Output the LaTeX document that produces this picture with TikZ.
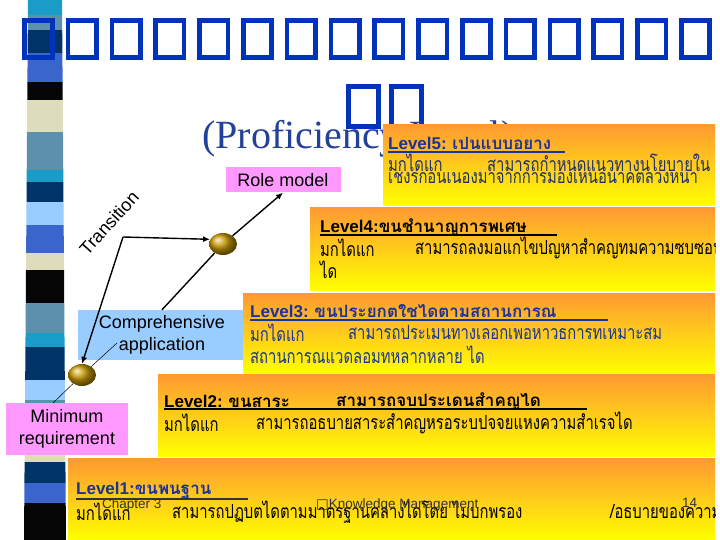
\documentclass[tikz,border=0pt]{standalone}
\usepackage{fontspec}
\setmainfont{Liberation Serif}
\setsansfont{Liberation Sans}
\newfontfamily\thaifont[Script=Thai,FakeStretch=0.76]{Loma}
\newfontfamily\thaihead[Script=Thai]{Loma}
\newfontfamily\symfont{DejaVu Sans}
\usetikzlibrary{shapes.geometric,arrows.meta}
\definecolor{PLTofu}{HTML}{0033BB}
\definecolor{PLTitle}{HTML}{23409A}
\definecolor{PLOrange}{HTML}{FF9933}
\definecolor{PLMid}{HTML}{FFCC1A}
\definecolor{PLYellow}{HTML}{FFFF00}
\definecolor{PLPink}{HTML}{FF99FF}
\definecolor{PLSky}{HTML}{99CCFF}
\definecolor{PLHead}{HTML}{1A3399}
\definecolor{PLNavy}{HTML}{1F2F6F}
\definecolor{PLGold}{HTML}{C89A00}
\definecolor{PLFoot}{HTML}{333333}
\definecolor{SCyan}{HTML}{1A9CC8}
\definecolor{SSteel}{HTML}{5B91AA}
\definecolor{SNavy}{HTML}{003366}
\definecolor{SBlue}{HTML}{3A66CC}
\definecolor{SBeige}{HTML}{DDDDBB}
\definecolor{SSky}{HTML}{99CCFF}
\definecolor{SBlack}{HTML}{050505}

\tikzset{
  lvlbox/.style={anchor=north west,inner sep=0,top color=PLOrange,bottom color=PLYellow,middle color=PLMid},
  lvlhead/.style={anchor=west,inner sep=0,font=\fontsize{17}{17}\selectfont\bfseries},
  lvltext/.style={anchor=west,inner sep=0,font=\thaifont\fontsize{19.5}{19.5}\selectfont},
  notebox/.style={fill=#1,inner sep=0,align=center,font=\sffamily\fontsize{18}{22}\selectfont},
  goldball/.style={ellipse,minimum width=28,minimum height=22,inner sep=0,shading=ball,ball color=PLGold},
  conn/.style={line width=1.4pt,black},
  footer/.style={anchor=west,inner sep=0,text=PLFoot,font=\sffamily\fontsize{13.5}{13.5}\selectfont}
}

\begin{document}
\begin{tikzpicture}[x=1pt,y=-1pt]
\path[use as bounding box] (0,0) rectangle (720,540);
\fill[white] (0,0) rectangle (720,540);

% left stripe
\begin{scope}
\clip (28,0) -- (62,0) -- (66,540) -- (24,540) -- cycle;
\foreach \ya/\yb/\c in {0/15/SCyan,15/30/SSteel,30/53/SNavy,53/82/SBlue,82/100/SBlack,
  100/132/SBeige,132/170/SSteel,170/182/SCyan,182/202/SNavy,202/225/SSky,225/253/SBlue,
  253/270/SBeige,270/303/SBlack,303/333/SSteel,333/347/SCyan,347/380/SNavy,380/400/SSky,
  400/452/SSteel,452/462/SBeige,462/483/SNavy,483/503/SBlue,503/540/SBlack}
  \fill[\c] (20,\ya) rectangle (70,\yb);
\end{scope}

% title (glyphs missing in the source)
\foreach \i in {0,...,15}
  \draw[PLTofu,line width=4.6pt] (24.3+43.8*\i,20.3) rectangle (52.7+43.8*\i,57.7);
\foreach \i in {0,1}
  \draw[PLTofu,line width=4.6pt] (348.3+43*\i,86.3) rectangle (378.7+43*\i,126.7);
\node[anchor=base west,inner sep=0,text=PLTitle,font=\fontsize{40}{40}\selectfont] (subtitle) at (202,149) {(Proficiency Level)};

% level boxes
\node[lvlbox,minimum width=332,minimum height=81] (lvl5) at (383,124) {};
\node[lvlbox,minimum width=405,minimum height=83] (lvl4) at (310,207) {};
\node[notebox=PLSky,minimum width=168,minimum height=50] (comp) at (162,335) {Comprehensive\\application};
\node[lvlbox,minimum width=472,minimum height=80] (lvl3) at (243,293) {};
\node[lvlbox,minimum width=557,minimum height=82] (lvl2) at (158,374) {};
\node[lvlbox,minimum width=647,minimum height=82] (lvl1) at (68,458) {};

\begin{scope}
\clip (0,0) rectangle (715,540);
% Level5
\node[lvlhead,text=PLHead] (h5) at (388,143) {{\sffamily Level5:} {\thaihead เปนแบบอยาง}};
\draw[PLHead,line width=1.2pt] (388,152) -- (565,152);
\node[lvltext,text=PLNavy] (t5a) at (388,163) {มกไดแก};
\node[lvltext,text=PLNavy] (t5b) at (487,163) {สามารถกำหนดแนวทางนโยบายใน};
\node[lvltext,text=PLNavy] (t5c) at (388,178) {เชงรกอนเนองมาจากการมองเหนอนาคตลวงหนา};
% Level4
\node[lvlhead,text=black] (h4) at (320,227) {{\sffamily Level4:}{\thaihead ขนชำนาญการพเศษ}};
\draw[black,line width=1.2pt] (320,235) -- (557,235);
\node[lvltext,text=black] (t4a) at (320,248) {มกไดแก};
\node[lvltext,text=black] (t4b) at (415,248) {สามารถลงมอแกไขปญหาสำคญทมความซบซอน};
\node[lvltext,text=black] (t4c) at (320,270) {ได};
% Level3
\node[lvlhead,text=PLHead] (h3) at (250,311) {{\sffamily Level3:} {\thaihead ขนประยกตใชไดตามสถานการณ}};
\draw[PLHead,line width=1.2pt] (250,320) -- (608,320);
\node[lvltext,text=PLHead] (t3a) at (250,333) {มกไดแก};
\node[lvltext,text=PLHead] (t3b) at (348,333) {สามารถประเมนทางเลอกเพอหาวธการทเหมาะสม};
\node[lvltext,text=PLHead] (t3c) at (250,355) {สถานการณแวดลอมทหลากหลาย ได};
% Level2
\node[lvlhead,text=black] (h2) at (164,401) {{\sffamily Level2:} {\thaihead ขนสาระ}};
\node[lvlhead,text=black] (h2b) at (336,401) {{\thaihead สามารถจบประเดนสำคญได}};
\draw[black,line width=1.2pt] (164,409) -- (587,409);
\node[lvltext,text=black] (t2a) at (164,423) {มกไดแก};
\node[lvltext,text=black] (t2b) at (256,423) {สามารถอธบายสาระสำคญหรอระบปจจยแหงความสำเรจได};
% Level1
\node[lvlhead,text=PLHead] (h1) at (76,491) {{\sffamily Level1:}{\thaihead ขนพนฐาน}};
\draw[PLFoot,line width=1.2pt] (76,499) -- (248,499);
\node[lvltext,text=black] (t1a) at (76,512) {มกไดแก};
\node[lvltext,text=black] (t1b) at (172,512) {สามารถปฏบตไดตามมาตรฐานคลางไดโดย ไมบกพรอง};
\node[lvltext,text=black] (t1c) at (610,512) {/อธบายของความสามารถ};
\end{scope}

% notes and path
\node[notebox=PLPink,minimum width=115,minimum height=25] (role) at (283,180) {Role model};
\node[notebox=PLPink,minimum width=122,minimum height=52] (mreq) at (67,429) {Minimum\\requirement};
\node[goldball] (ball1) at (82,375) {};
\node[goldball] (ball2) at (223,244) {};
\coordinate (tcorner) at (123,237);
\coordinate (appl) at (117,343);
\coordinate (mtop) at (53,403);
\draw[conn,-{Latex[length=7pt,width=6pt]}] (tcorner) -- (ball2.160);
\draw[conn,-{Latex[length=7pt,width=6pt]}] (tcorner) -- (ball1.north);
\draw[conn] (comp.north) -- (ball2);
\draw[conn,-{Latex[length=7pt,width=6pt]}] (ball2) -- (role.south);
\draw[black,line width=.5pt] (ball1) -- (appl);
\draw[black,line width=.5pt] (ball1) -- (mtop);
\node[inner sep=0,rotate=48,font=\sffamily\fontsize{18}{18}\selectfont] (trans) at (109,223) {Transition};

% footer
\node[footer] (chap) at (102,505) {Chapter 3};
\node[footer] (kmfoot) at (316,505) {{\symfont □}Knowledge Management};
\node[footer] (pgnum) at (682,503) {14};
\end{tikzpicture}
\end{document}
